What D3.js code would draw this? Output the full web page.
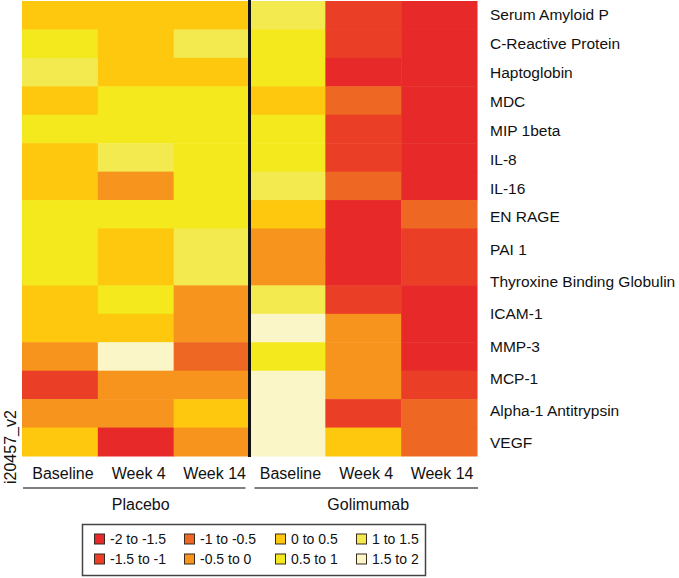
<!DOCTYPE html>
<html>
<head>
<meta charset="utf-8">
<script src="https://cdn.jsdelivr.net/npm/d3@7"></script>
<style>
  html, body { margin: 0; padding: 0; background: #fff; }
  svg { display: block; font-family: "Liberation Sans", Arial, Helvetica, sans-serif; }
</style>
</head>
<body>
<svg id="chart" width="679" height="578"></svg>
<script>
// ---- data ----
const rowLabels = ["Serum Amyloid P", "C-Reactive Protein", "Haptoglobin", "MDC", "MIP 1beta",
  "IL-8", "IL-16", "EN RAGE", "PAI 1", "Thyroxine Binding Globulin", "ICAM-1", "MMP-3",
  "MCP-1", "Alpha-1 Antitrypsin", "VEGF"];
const columnLabels = ["Baseline", "Week 4", "Week 14", "Baseline", "Week 4", "Week 14"];
const groupLabels = ["Placebo", "Golimumab"];
const placeboBaseline = [0.25, 0.75, 1.25, 0.25, 0.75, 0.25, 0.25, 0.75, 0.75, 0.75, 0.25, 0.25, -0.25, -1.25, -0.25, 0.25];
const placeboWeek4    = [0.25, 0.25, 0.25, 0.75, 0.75, 1.25, -0.25, 0.75, 0.25, 0.25, 0.75, 0.25, 1.75, -0.25, -0.25, -1.75];
const placeboWeek14   = [0.25, 1.25, 0.25, 0.75, 0.75, 0.75, 0.75, 0.75, 1.25, 1.25, -0.25, -0.25, -0.75, -0.25, 0.25, -0.25];
const golimumabBaseline = [1.25, 0.75, 0.75, 0.25, 0.75, 0.75, 1.25, 0.25, -0.25, -0.25, 1.25, 1.75, 0.75, 1.75, 1.75, 1.75];
const golimumabWeek4    = [-1.25, -1.25, -1.75, -0.75, -1.25, -1.25, -0.75, -1.75, -1.75, -1.75, -1.25, -0.25, -0.25, -0.25, -1.25, 0.25];
const golimumabWeek14   = [-1.75, -1.75, -1.75, -1.75, -1.75, -1.75, -1.75, -0.75, -1.25, -1.25, -1.75, -1.75, -1.75, -1.25, -0.75, -0.75];
const legendLabels = ["-2 to -1.5", "-1.5 to -1", "-1 to -0.5", "-0.5 to 0", "0 to 0.5", "0.5 to 1", "1 to 1.5", "1.5 to 2"];
const thresholds = [-1.5, -1, -0.5, 0, 0.5, 1, 1.5];
const palette = ["#e72a29", "#ea3e27", "#ee6823", "#f7941d", "#fdc80e", "#f3e91d", "#f3ea50", "#fbf6c8"];
const sideNote = "i20457_v2";

// ---- build ----
const columns = [placeboBaseline, placeboWeek4, placeboWeek14, golimumabBaseline, golimumabWeek4, golimumabWeek14];
const nRows = placeboBaseline.length;
const cells = [];
columns.forEach((col, c) => col.forEach((v, r) => cells.push({c, r, v})));

const svg = d3.select("#chart");
const x = d3.scaleBand().domain(d3.range(columns.length)).range([22, 477]);
const y = d3.scaleBand().domain(d3.range(nRows)).range([1, 456]);
const color = d3.scaleThreshold().domain(thresholds).range(palette);

svg.append("g").selectAll("rect").data(cells).join("rect")
  .attr("x", d => x(d.c))
  .attr("y", d => y(d.r))
  .attr("width", x.bandwidth() + 0.5)
  .attr("height", y.bandwidth() + 0.5)
  .attr("fill", d => color(d.v));

// divider
const divX = x(3);
svg.append("line").attr("x1", divX).attr("x2", divX).attr("y1", 0).attr("y2", 457)
  .attr("stroke", "#111").attr("stroke-width", 3);

// row labels (placement as in reference)
const labelY = d3.scaleLinear().domain([0, 7, 14]).range([15, 217, 443]);
svg.append("g").selectAll("text").data(rowLabels).join("text")
  .attr("x", 490).attr("y", (d, i) => labelY(i))
  .attr("dy", "0.35em").attr("font-size", 15.5).attr("fill", "#111")
  .text(d => d);

// column labels
svg.append("g").selectAll("text").data(columnLabels).join("text")
  .attr("x", (d, i) => x(i) + x.bandwidth() / 2 + 3).attr("y", 473)
  .attr("dy", "0.35em").attr("text-anchor", "middle").attr("font-size", 16).attr("fill", "#111")
  .text(d => d);

// group underline + labels
const groups = groupLabels.map((g, i) => ({g, x0: x(i * 3), x1: x(i * 3 + 2) + x.bandwidth()}));
svg.append("g").selectAll("line").data(groups).join("line")
  .attr("x1", (d, i) => d.x0 + (i === 0 ? 1 : 5)).attr("x2", (d, i) => d.x1 - (i === 0 ? 4 : -1))
  .attr("y1", 488).attr("y2", 488).attr("stroke", "#555").attr("stroke-width", 1.5);
svg.append("g").selectAll("text").data(groups).join("text")
  .attr("x", d => (d.x0 + d.x1) / 2 + 5).attr("y", 504)
  .attr("dy", "0.35em").attr("text-anchor", "middle").attr("font-size", 16).attr("fill", "#111")
  .text(d => d.g);

// side note
svg.append("text").attr("transform", "translate(16,484) rotate(-90)")
  .attr("font-size", 16).attr("fill", "#111").text(sideNote);

// legend
const lg = svg.append("g");
lg.append("rect").attr("x", 82.5).attr("y", 524.5).attr("width", 343).attr("height", 51)
  .attr("fill", "#fff").attr("stroke", "#444").attr("stroke-width", 1.5);
const colX = [94, 184, 275, 356];
const items = legendLabels.map((l, i) => ({l, c: palette[i], col: Math.floor(i / 2), row: i % 2}));
const it = lg.selectAll("g.item").data(items).join("g").attr("class", "item")
  .attr("transform", d => `translate(${colX[d.col]},${d.row === 0 ? 539 : 559})`);
it.append("rect").attr("x", 0.5).attr("y", -5).attr("width", 10).attr("height", 10)
  .attr("fill", d => d.c).attr("stroke", "#3b2a1e").attr("stroke-width", 1);
it.append("text").attr("x", 16).attr("dy", "0.35em").attr("font-size", 14).attr("fill", "#111")
  .text(d => d.l);
</script>
</body>
</html>
